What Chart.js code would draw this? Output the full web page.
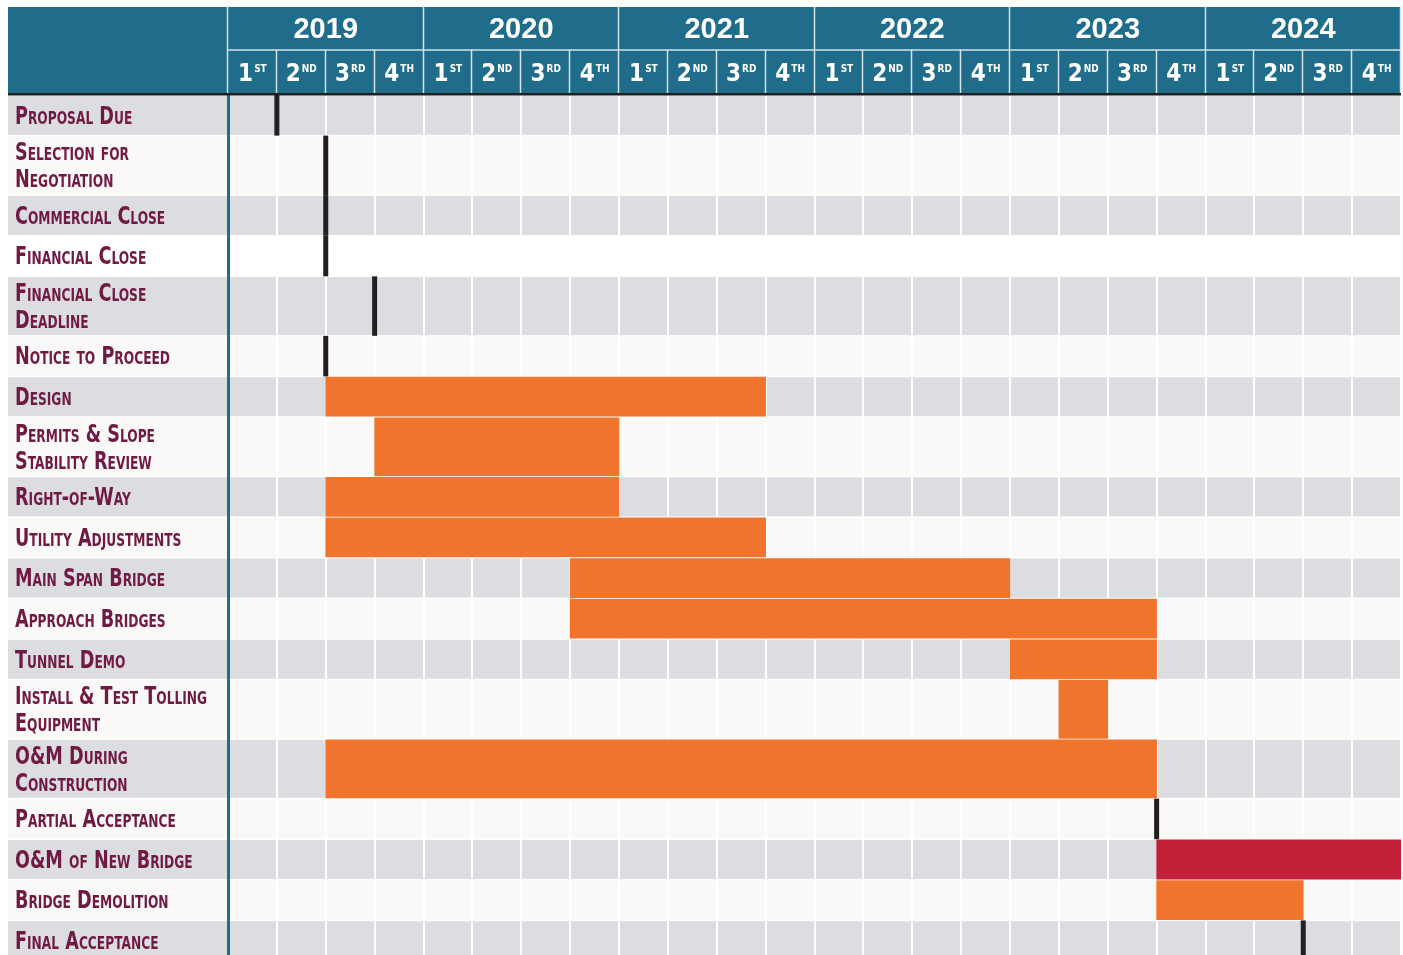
<!DOCTYPE html>
<html>
<head>
<meta charset="utf-8">
<title>Project schedule</title>
<script src="https://cdn.jsdelivr.net/npm/chart.js@4/dist/chart.umd.min.js"></script>
<style>
  html, body { margin: 0; padding: 0; background: #fff; overflow: hidden; }
  #wrap { width: 1403px; height: 955px; overflow: hidden; position: relative; background: #fff; }
</style>
</head>
<body>
<div id="wrap"><canvas id="gantt" width="1403" height="961"></canvas></div>
<script>
// rows of the schedule, top to bottom
const rowLabels = [
  ["Proposal Due"],
  ["Selection for", "Negotiation"],
  ["Commercial Close"],
  ["Financial Close"],
  ["Financial Close", "Deadline"],
  ["Notice to Proceed"],
  ["Design"],
  ["Permits & Slope", "Stability Review"],
  ["Right-of-Way"],
  ["Utility Adjustments"],
  ["Main Span Bridge"],
  ["Approach Bridges"],
  ["Tunnel Demo"],
  ["Install & Test Tolling", "Equipment"],
  ["O&M During", "Construction"],
  ["Partial Acceptance"],
  ["O&M of New Bridge"],
  ["Bridge Demolition"],
  ["Final Acceptance"]
];

// quarters counted from 2019 Q1 = 0
const taskStart = [null, null, null, null, null, null, 2, 3, 2, 2, 7, 7, 16, 17, 2, null, 19, 19, null];
const taskEnd   = [null, null, null, null, null, null, 11, 8, 8, 11, 16, 19, 19, 18, 19, null, 24, 22, null];
const milestone = [1, 2, 2, 2, 3, 2, null, null, null, null, null, null, null, null, null, 19, null, null, 22];
const taskKind  = ["", "", "", "", "", "", "build", "build", "build", "build", "build", "build", "build", "build", "build", "", "operate", "build", ""];

const years = ["2019", "2020", "2021", "2022", "2023", "2024"];
const quarterNums = ["1", "2", "3", "4"];
const quarterSuffix = ["ST", "ND", "RD", "TH"];

// colours
const ORANGE = '#f0742e';
const RED = '#c21f39';
const INK = '#231f20';
const TEAL = '#1f6d8b';
const MAROON = '#701a43';
const GRAY = '#dcdde0';
const LIGHT = '#faf9f7';
const HEAD_LINE = '#d4e2ea';
const plainRows = [3];   // row drawn on white in the original
const LABEL_SQUEEZE = 0.8;  // no condensed face installed, squeeze the labels

// two-line rows are taller
const TALL = 1.466;
const rowUnits = rowLabels.map(l => l.length > 1 ? TALL : 1);
const rowTop = [];
let acc = 0;
rowUnits.forEach(u => { rowTop.push(acc); acc += u; });
const totalUnits = acc;
const rowMid = rowTop.map((t, i) => t + rowUnits[i] / 2);

function barsFor(tall) {
  const out = [];
  rowLabels.forEach((l, i) => {
    if (taskStart[i] === null) return;
    if ((rowUnits[i] > 1) !== tall) return;
    out.push({ y: rowMid[i], x: [taskStart[i], taskEnd[i]], row: i });
  });
  return out;
}

const milestonePoints = [];
milestone.forEach((m, i) => {
  if (m !== null) milestonePoints.push({ x: m, y: rowMid[i], row: i });
});

function unitPx(chart, u) {
  const y = chart.scales.y;
  return Math.abs(y.getPixelForValue(u) - y.getPixelForValue(0));
}

function barColor(ctx) {
  if (!ctx.raw) return ORANGE;
  return taskKind[ctx.raw.row] === 'operate' ? RED : ORANGE;
}

// linear scale whose tick labels are squeezed horizontally
class CondensedLinear extends Chart.LinearScale {
  _computeLabelArea() {
    return undefined;
  }
  drawLabels(area) {
    const ctx = this.ctx;
    ctx.save();
    ctx.translate(this.left, 0);
    ctx.scale(LABEL_SQUEEZE, 1);
    ctx.translate(-this.left, 0);
    super.drawLabels(area);
    ctx.restore();
  }
}
CondensedLinear.id = 'condensedLinear';
CondensedLinear.defaults = Chart.LinearScale.defaults;
Chart.register(CondensedLinear);

// striped rows behind everything
const rowStripes = {
  id: 'rowStripes',
  beforeDraw(chart) {
    const { ctx, chartArea, scales: { y } } = chart;
    ctx.save();
    rowLabels.forEach((l, i) => {
      const top = y.getPixelForValue(rowTop[i]);
      const bottom = y.getPixelForValue(rowTop[i] + rowUnits[i]);
      ctx.fillStyle = plainRows.includes(i) ? '#ffffff' : (i % 2 === 0 ? GRAY : LIGHT);
      ctx.fillRect(8, top + 0.75, chartArea.right - 8, bottom - top - 1.5);
    });
    ctx.restore();
  }
};

// year / quarter header
const header = {
  id: 'header',
  afterDraw(chart) {
    const { ctx, chartArea, scales: { x } } = chart;
    const top = 7, mid = 50, bot = 93;
    ctx.save();
    ctx.fillStyle = TEAL;
    ctx.fillRect(8, top, chartArea.right - 8, bot - top);
    ctx.fillStyle = INK;
    ctx.fillRect(8, bot, chartArea.right - 8, 2.5);

    ctx.strokeStyle = HEAD_LINE;
    ctx.lineWidth = 1.5;
    ctx.beginPath();
    ctx.moveTo(chartArea.left, mid);
    ctx.lineTo(chartArea.right, mid);
    for (let q = 0; q <= years.length * 4; q++) {
      const px = Math.round(x.getPixelForValue(q)) - 0.5;
      ctx.moveTo(px, q % 4 === 0 ? top : mid);
      ctx.lineTo(px, bot);
    }
    ctx.stroke();

    ctx.fillStyle = '#ffffff';
    ctx.textBaseline = 'middle';
    ctx.textAlign = 'center';
    ctx.font = "bold 29px 'Liberation Sans', Arial, sans-serif";
    years.forEach((yr, i) => {
      const cx = (x.getPixelForValue(i * 4) + x.getPixelForValue(i * 4 + 4)) / 2;
      ctx.fillText(yr, cx, 30);
    });

    ctx.textBaseline = 'alphabetic';
    ctx.textAlign = 'left';
    const bigFont = "bold 24px 'DejaVu Sans Condensed', sans-serif";
    const smallFont = "bold 10px 'DejaVu Sans Condensed', sans-serif";
    for (let q = 0; q < years.length * 4; q++) {
      const k = q % 4;
      const cx = (x.getPixelForValue(q) + x.getPixelForValue(q + 1)) / 2;
      ctx.font = bigFont;
      const w1 = ctx.measureText(quarterNums[k]).width;
      ctx.font = smallFont;
      const w2 = ctx.measureText(quarterSuffix[k]).width;
      const sx = cx - (w1 + 1 + w2) / 2;
      ctx.font = bigFont;
      ctx.fillText(quarterNums[k], sx, 80.5);
      ctx.font = smallFont;
      ctx.fillText(quarterSuffix[k], sx + w1 + 1, 71.5);
    }
    ctx.restore();
  }
};

new Chart(document.getElementById('gantt'), {
  type: 'bar',
  data: {
    datasets: [
      {
        label: 'Tasks',
        data: barsFor(false),
        indexAxis: 'y',
        grouped: false,
        backgroundColor: barColor,
        borderWidth: 0,
        barThickness: ctx => unitPx(ctx.chart, 1) - 1.5
      },
      {
        label: 'Tasks (two-line rows)',
        data: barsFor(true),
        indexAxis: 'y',
        grouped: false,
        backgroundColor: barColor,
        borderWidth: 0,
        barThickness: ctx => unitPx(ctx.chart, TALL) - 1.5
      },
      {
        type: 'scatter',
        label: 'Milestones',
        data: milestonePoints,
        indexAxis: 'x',
        pointStyle: 'line',
        pointRotation: 90,
        pointRadius: ctx => ctx.raw ? unitPx(ctx.chart, rowUnits[ctx.raw.row]) / 2 : 0,
        pointBorderColor: INK,
        pointBorderWidth: 5,
        pointBackgroundColor: INK
      }
    ]
  },
  options: {
    responsive: false,
    animation: false,
    indexAxis: 'y',
    events: [],
    layout: { padding: { left: 15, right: 2, top: 0, bottom: 0 } },
    plugins: {
      legend: { display: false },
      tooltip: { enabled: false }
    },
    scales: {
      x: {
        type: 'linear',
        position: 'top',
        offset: false,
        min: 0,
        max: years.length * 4,
        afterBuildTicks: s => {
          s.ticks = [];
          for (let q = 0; q <= years.length * 4; q++) s.ticks.push({ value: q });
        },
        afterFit: s => {
          s.height = 95;
          s.paddingLeft = 0;
          s.paddingRight = 0;
        },
        ticks: { display: false, stepSize: 1 },
        grid: { color: '#ffffff', lineWidth: 2, drawTicks: false, offset: false },
        border: { display: false }
      },
      y: {
        type: 'condensedLinear',
        reverse: true,
        offset: false,
        min: 0,
        max: totalUnits,
        afterBuildTicks: s => { s.ticks = rowMid.map(v => ({ value: v })); },
        afterFit: s => {
          s.width = 213;
          s.paddingTop = 0;
          s.paddingBottom = 0;
        },
        grid: { display: false, offset: false },
        border: { display: true, color: TEAL, width: 3 },
        ticks: {
          autoSkip: false,
          padding: 0,
          labelOffset: 2,
          crossAlign: 'far',
          color: MAROON,
          font: {
            family: "'DejaVu Sans Condensed', sans-serif",
            size: 24.5,
            weight: 'small-caps bold',
            lineHeight: '27px'
          },
          callback: (v, i) => rowLabels[i]
        }
      }
    }
  },
  plugins: [rowStripes, header]
});
</script>
</body>
</html>
